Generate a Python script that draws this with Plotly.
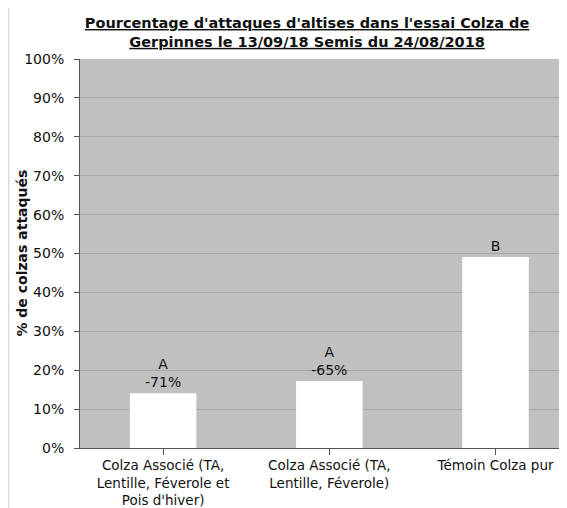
import plotly.graph_objects as go

categories = ["Colza Associé (TA,<br>Lentille, Féverole et<br>Pois d'hiver)",
              "Colza Associé (TA,<br>Lentille, Féverole)",
              "Témoin Colza pur"]
attack_pct = [14.1, 17.2, 49.1]
bar_labels = ["A<br>-71%", "A<br>-65%", "B"]
y_ticks = [0, 10, 20, 30, 40, 50, 60, 70, 80, 90, 100]

font_family = "DejaVu Sans, Liberation Sans, Arial, sans-serif"

fig = go.Figure()

fig.add_trace(go.Bar(x=[0, 1, 2],
                     y=attack_pct,
                     width=0.4,
                     marker=dict(color="white", line=dict(width=0)),
                     text=bar_labels,
                     textposition="outside",
                     cliponaxis=False,
                     textfont=dict(size=14, color="#111111", family=font_family),
                     hoverinfo="skip"))

# light frame line on the left of the chart area
fig.add_shape(type="line", xref="paper", yref="paper",
              x0=-0.146, x1=-0.146, y0=-0.2, y1=1.2,
              line=dict(color="#c8c8c8", width=1))

# y axis title placed by hand, close to the tick labels
fig.add_annotation(text="<b>% de colzas attaqués</b>",
                   xref="paper", yref="paper",
                   x=-0.121, y=0.5, xanchor="center", yanchor="middle",
                   textangle=-90, showarrow=False,
                   font=dict(size=14, color="#111111", family=font_family))

fig.update_xaxes(range=[-0.5, 2.43],
                 tickvals=[0, 1, 2],
                 ticktext=categories,
                 tickson="boundaries",
                 ticks="outside",
                 ticklen=6,
                 tickcolor="#555555",
                 showline=True,
                 linecolor="#555555",
                 showgrid=False,
                 automargin=False,
                 ticklabelstandoff=-1,
                 tickfont=dict(size=13.5, color="#111111", family=font_family))

fig.update_yaxes(range=[0, 100],
                 tickvals=y_ticks,
                 ticktext=[f"{v}%" for v in y_ticks],
                 ticks="outside",
                 ticklen=5,
                 tickcolor="#555555",
                 showline=True,
                 linecolor="#555555",
                 showgrid=True,
                 gridcolor="#a6a6a6",
                 zeroline=False,
                 automargin=False,
                 ticklabelstandoff=7,
                 tickfont=dict(size=14, color="#111111", family=font_family))

# the page adds an 8px body margin, so the figure is 8px smaller than the window
fig.update_layout(width=559, height=500,
                  margin=dict(l=72, r=0, t=51, b=60, autoexpand=False),
                  plot_bgcolor="#c0c0c0",
                  paper_bgcolor="white",
                  showlegend=False,
                  bargap=0.6,
                  title=dict(text="<b><u>Pourcentage d'attaques d'altises dans l'essai Colza de</u></b><br>"
                                  "<b><u>Gerpinnes le 13/09/18 Semis du 24/08/2018</u></b>",
                             x=0.535, xanchor="center", xref="container",
                             y=0.96, yanchor="middle", yref="container",
                             font=dict(size=14.5, color="#111111", family=font_family)))

fig.write_html("out.html", config={"displayModeBar": False})
